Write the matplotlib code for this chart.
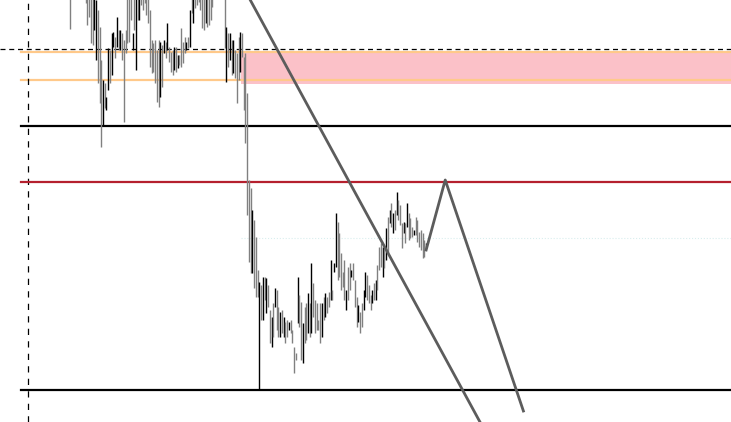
import numpy as np
import matplotlib
matplotlib.use('Agg')
import matplotlib.pyplot as plt

# bar highs / lows (price) and direction (1 = up / grey, -1 = down / black)
highs = [1.1137, 1.1162, 1.1157, 1.1167, 1.1152, 1.1160, 1.1164, 1.1152, 1.1147,
         1.1142, 1.1147, 1.1137, 1.1132, 1.1132, 1.1127, 1.1122, 1.1112, 1.1095, 1.1062,
         1.1042, 1.1039, 1.1025, 1.1074, 1.1072, 1.1089, 1.1090, 1.1085, 1.1105, 1.1092,
         1.1092, 1.1089, 1.1082, 1.1092, 1.1127, 1.1132, 1.1137, 1.1089, 1.1132, 1.1127,
         1.1132, 1.1127, 1.1137, 1.1132, 1.1142, 1.1132, 1.1127, 1.1112, 1.1082, 1.1079,
         1.1082, 1.1072, 1.1082, 1.1080, 1.1077, 1.1082, 1.1080, 1.1099, 1.1075, 1.1070,
         1.1072, 1.1075, 1.1075, 1.1067, 1.1067, 1.1094, 1.1080, 1.1085, 1.1080, 1.1085,
         1.1112, 1.1132, 1.1127, 1.1132, 1.1137, 1.1142, 1.1132, 1.1127, 1.1125, 1.1127,
         1.1130, 1.1128, 1.1132, 1.1137, 1.1152, 1.1147, 1.1157, 1.1150, 1.1144, 1.1142,
         1.1127, 1.1095, 1.1089, 1.1089, 1.1082, 1.1082, 1.1072, 1.1069, 1.1085,
         1.1090, 1.1089, 1.1065, 1.1069, 1.1029, 1.0942, 1.0934, 1.0912, 1.0902, 1.0885,
         1.0852, 1.0840, 1.0837, 1.0845, 1.0845, 1.0844, 1.0837, 1.0812, 1.0805, 1.0819,
         1.0834, 1.0832, 1.0815, 1.0810, 1.0812, 1.0805, 1.0800, 1.0802, 1.0800,
         1.0802, 1.0792, 1.0775, 1.0769, 1.0845, 1.0827, 1.0820, 1.0799, 1.0815,
         1.0819, 1.0829, 1.0819, 1.0859, 1.0839, 1.0822, 1.0819, 1.0802, 1.0819, 1.0819,
         1.0825, 1.0829, 1.0825, 1.0830, 1.0862, 1.0832, 1.0859, 1.0909, 1.0900, 1.0889,
         1.0869, 1.0850, 1.0862, 1.0832, 1.0855, 1.0859, 1.0852, 1.0859, 1.0842, 1.0825,
         1.0817, 1.0810, 1.0819, 1.0832, 1.0850, 1.0847, 1.0837, 1.0827, 1.0832, 1.0839,
         1.0842, 1.0857, 1.0875, 1.0879, 1.0875, 1.0875, 1.0894, 1.0905, 1.0912, 1.0919,
         1.0909, 1.0912, 1.0930, 1.0922, 1.0917, 1.0899, 1.0900, 1.0899, 1.0919, 1.0909,
         1.0904, 1.0895,
         1.0892, 1.0905, 1.0902, 1.0890, 1.0892, 1.0889, 1.0882, 1.0879]
lows = [1.1093, 1.1130, 1.1127, 1.1134, 1.1125, 1.1132, 1.1128, 1.1126, 1.1124,
        1.1119, 1.1097, 1.1105, 1.1079, 1.1077, 1.1092, 1.1062, 1.1039, 1.1019, 1.0975,
        1.0997, 1.1014, 1.1012, 1.1032, 1.1039, 1.1047, 1.1075, 1.1064, 1.1075, 1.1072,
        1.1072, 1.1062, 1.1000, 1.1069, 1.1079, 1.1080, 1.1102, 1.1072, 1.1092, 1.1052,
        1.1102, 1.1102, 1.1117, 1.1112, 1.1119, 1.1107, 1.1099, 1.1055, 1.1049, 1.1050,
        1.1039, 1.1020, 1.1015, 1.1025, 1.1035, 1.1069, 1.1064, 1.1072, 1.1060, 1.1050,
        1.1047, 1.1052, 1.1050, 1.1054, 1.1057, 1.1055, 1.1059, 1.1069, 1.1072, 1.1074,
        1.1075, 1.1109, 1.1099, 1.1114, 1.1117, 1.1120, 1.1112, 1.1094, 1.1092, 1.1099,
        1.1095, 1.1097, 1.1102, 1.1115, 1.1127, 1.1125, 1.1130, 1.1124, 1.1126, 1.1123,
        1.1074, 1.1040, 1.1055, 1.1062, 1.1047, 1.1049, 1.1044, 1.1019, 1.1042,
        1.1050, 1.1065, 1.1012, 1.0979, 1.0907, 1.0860, 1.0849, 1.0849, 1.0834, 1.0825,
        1.0825, 1.0732, 1.0802, 1.0802, 1.0822, 1.0809, 1.0815, 1.0779, 1.0775, 1.0785,
        1.0815, 1.0792, 1.0785, 1.0785, 1.0789, 1.0785, 1.0779, 1.0785, 1.0792,
        1.0789, 1.0779, 1.0749, 1.0762, 1.0799, 1.0795, 1.0762, 1.0759, 1.0779,
        1.0782, 1.0789, 1.0785, 1.0789, 1.0805, 1.0789, 1.0792, 1.0792, 1.0779, 1.0785,
        1.0802, 1.0805, 1.0809, 1.0815, 1.0822, 1.0822, 1.0850, 1.0855, 1.0842, 1.0845,
        1.0832, 1.0835, 1.0822, 1.0812, 1.0822, 1.0832, 1.0845, 1.0842, 1.0815, 1.0795,
        1.0800, 1.0789, 1.0795, 1.0812, 1.0825, 1.0822, 1.0819, 1.0812, 1.0819, 1.0822,
        1.0822, 1.0832, 1.0852, 1.0855, 1.0845, 1.0854, 1.0862, 1.0869, 1.0899, 1.0895,
        1.0889, 1.0892, 1.0907, 1.0902, 1.0897, 1.0874, 1.0889, 1.0879, 1.0895, 1.0882,
        1.0884, 1.0885,
        1.0887, 1.0887, 1.0880, 1.0875, 1.0872, 1.0864, 1.0865, 1.0874]
direction = [1, 1, 1, 1, 1, 1, 1, 1, 1,
             1, 1, 1, 1, 1, -1, -1, 1, 1, 1,
             -1, 1, -1, -1, 1, -1, -1, 1, -1, 1,
             -1, 1, 1, 1, 1, 1, 1, -1, 1, -1,
             1, -1, 1, 1, 1, 1, 1, 1, 1, 1,
             1, 1, 1, -1, 1, -1, 1, -1, 1, 1,
             1, -1, 1, -1, 1, 1, 1, 1, -1, 1,
             -1, 1, -1, 1, 1, 1, 1, 1, 1, -1,
             1, 1, 1, 1, 1, 1, 1, 1, 1, 1,
             1, -1, 1, -1, 1, -1, 1, 1, 1,
             -1, 1, 1, 1, 1, 1, 1, -1, 1, 1,
             1, -1, 1, -1, 1, -1, 1, 1, -1, 1,
             -1, 1, 1, -1, 1, -1, 1, 1, -1,
             1, 1, 1, 1, -1, 1, 1, -1, 1,
             1, -1, 1, -1, 1, 1, 1, 1, 1, -1,
             1, -1, 1, 1, -1, 1, -1, -1, 1, 1,
             1, 1, 1, -1, 1, 1, -1, 1, 1, 1,
             -1, 1, 1, -1, -1, 1, 1, 1, -1, 1,
             -1, 1, 1, 1, -1, 1, -1, 1, -1, 1,
             -1, 1, -1, 1, 1, 1, -1, 1, -1, 1,
             1, 1,
             -1, 1, 1, 1, 1, 1, 1, -1]

# levels
resistance_dash = 1.1073
zone_top, zone_bottom = 1.1071, 1.1038
zone_start = 98.5
orange_levels = [1.1070, 1.1042]
black_levels = [1.0996, 1.0732]
red_level = 1.0940
faint_level = 1.0884
vline_bar = -24.2
line_start = -28.2

# trend line and projected zigzag (bar index, price)
trend_x = [100, 236]
trend_y = [1.1134, 1.0700]
zig_x = [205, 216, 261]
zig_y = [1.0872, 1.0942, 1.0711]

fig = plt.figure(figsize=(7.31, 4.22), dpi=100)
ax = fig.add_axes([0, 0, 1, 1])
ax.set_xlim(-40.3, 380.5)
ax.set_ylim(1.0700, 1.1122)
ax.axis('off')

xmax = 380.5
ax.fill_between([zone_start, xmax], zone_bottom, zone_top, color='#fbc1c8', lw=0, zorder=1)
for lvl in orange_levels:
    ax.plot([line_start, xmax], [lvl, lvl], color='#ffc98a', lw=1.6, zorder=2)
ax.axhline(resistance_dash, color='black', lw=0.9, ls=(0, (4, 3)), zorder=2)
ax.axvline(vline_bar, color='black', lw=0.9, ls=(0, (5, 5)), zorder=2)
for lvl in black_levels:
    ax.plot([line_start, xmax], [lvl, lvl], color='black', lw=1.6, zorder=2)
ax.plot([line_start, xmax], [red_level, red_level], color='#b5202e', lw=1.6, zorder=2)
ax.plot([zone_start, xmax], [faint_level, faint_level], color='#d9eeee', lw=0.8, ls=':', zorder=2)

idx = np.arange(len(highs))
cols = ['#000000' if d < 0 else '#808080' for d in direction]
ax.vlines(idx, lows, highs, colors=cols, lw=1.0, zorder=3)

ax.plot(trend_x, trend_y, color='#5c5c5c', lw=2, zorder=4)
ax.plot(zig_x, zig_y, color='#5c5c5c', lw=2, zorder=4)

fig.savefig('out.png', dpi=100)
